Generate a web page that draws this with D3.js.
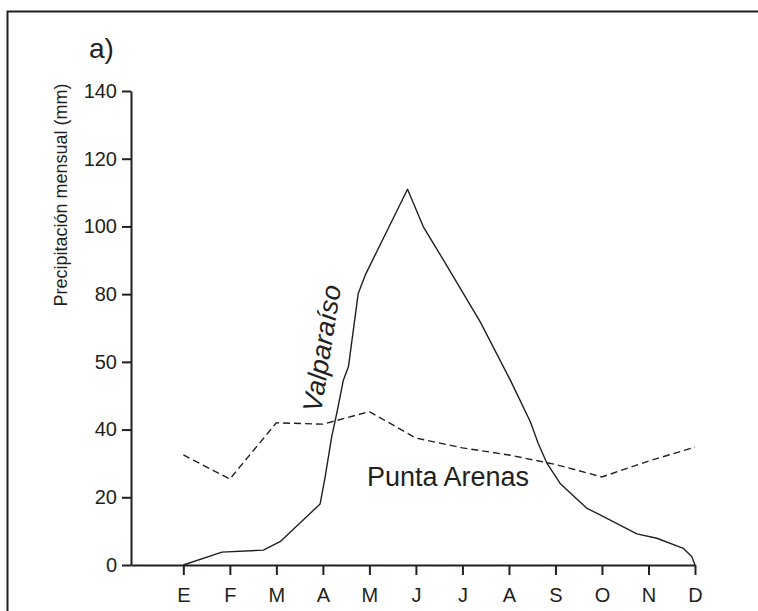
<!DOCTYPE html>
<html>
<head>
<meta charset="utf-8">
<script src="https://cdn.jsdelivr.net/npm/d3@7/dist/d3.min.js"></script>
<style>
  html, body { margin: 0; padding: 0; background: #fff; }
  svg { display: block; }
  text { font-family: "Liberation Sans", Arial, sans-serif; fill: #231f20; }
</style>
</head>
<body>
<svg id="chart" width="758" height="611"></svg>
<script>
// Monthly precipitation (mm): Valparaíso vs Punta Arenas
const months = ["E", "F", "M", "A", "M", "J", "J", "A", "S", "O", "N", "D"];

const yTickValues = [0, 20, 40, 60, 80, 100, 120, 140];
const yTickLabels = ["0", "20", "40", "50", "80", "100", "120", "140"];

// Valparaíso: traced curve, position in months (0 = E) and value in mm
const valparaisoMonth = [0, 0.83, 1.72, 2.08, 2.94, 3.05, 3.19, 3.30, 3.44, 3.55, 3.76, 3.91,
                         4.82, 5.16, 5.59, 6.38, 7.03, 7.46, 7.63, 7.82, 8.10, 8.68, 8.96,
                         9.75, 10.18, 10.75, 10.93, 11];
const valparaisoMm    = [0, 3.8, 4.4, 6.9, 18.0, 26.1, 37.9, 44.9, 54.6, 58.6, 80.2, 85.6,
                         111, 99.9, 90.1, 71.9, 54.6, 42.3, 35.9, 30.0, 24.1, 16.7, 14.8,
                         9.2, 7.9, 4.9, 2.5, 0];

// Punta Arenas: one value per month
const puntaArenasMm = [32.5, 25.4, 42.0, 41.6, 45.3, 37.5, 34.6, 32.5, 29.7, 26.0, 30.7, 34.8];

const svg = d3.select("#chart");
const ink = "#231f20";

// outer frame (open on the right and bottom)
svg.append("rect")
  .attr("x", 7.5).attr("y", 11.5)
  .attr("width", 800).attr("height", 700)
  .attr("fill", "none").attr("stroke", ink).attr("stroke-width", 2);

const x = d3.scaleLinear().domain([-1.125, 11]).range([131, 695]);
const y = d3.scaleLinear().domain([0, 140]).range([565, 91]);

// y axis
const yAxis = svg.append("g")
  .attr("transform", "translate(131,0)")
  .call(d3.axisLeft(y)
    .tickValues(yTickValues)
    .tickFormat((d, i) => yTickLabels[i])
    .tickSize(9).tickSizeOuter(0).tickPadding(5));
yAxis.select(".domain").attr("stroke", ink).attr("stroke-width", 2);
yAxis.selectAll(".tick line").attr("stroke", ink).attr("stroke-width", 2);
yAxis.selectAll(".tick text")
  .attr("fill", ink).style("font-size", "20px")
  .style("font-family", "'Liberation Sans', Arial, sans-serif");

// x axis
const xAxis = svg.append("g")
  .attr("transform", "translate(0,565)")
  .call(d3.axisBottom(x)
    .tickValues(d3.range(months.length))
    .tickFormat((d, i) => months[i])
    .tickSize(10).tickSizeOuter(0).tickPadding(13));
xAxis.select(".domain").attr("stroke", ink).attr("stroke-width", 2);
xAxis.selectAll(".tick line").attr("stroke", ink).attr("stroke-width", 2);
xAxis.selectAll(".tick text")
  .attr("fill", ink).style("font-size", "20px")
  .style("font-family", "'Liberation Sans', Arial, sans-serif");

// series lines
const line = d3.line()
  .x(d => x(d[0]))
  .y(d => y(d[1]));

svg.append("path")
  .datum(d3.zip(valparaisoMonth, valparaisoMm))
  .attr("d", line)
  .attr("fill", "none").attr("stroke", ink).attr("stroke-width", 1.4)
  .attr("stroke-linejoin", "round");

svg.append("path")
  .datum(puntaArenasMm.map((v, i) => [i, v]))
  .attr("d", line)
  .attr("fill", "none").attr("stroke", ink).attr("stroke-width", 1.4)
  .attr("stroke-dasharray", "7,4");

// labels
svg.append("text")
  .attr("transform", "translate(67,195) rotate(-90)")
  .attr("text-anchor", "middle")
  .style("font-size", "18px")
  .text("Precipitación mensual (mm)");

svg.append("text")
  .attr("x", 89).attr("y", 58)
  .style("font-size", "28px")
  .text("a)");

svg.append("text")
  .attr("transform", "translate(321,413) rotate(-81)")
  .style("font-size", "27px").style("font-style", "italic")
  .text("Valparaíso");

svg.append("text")
  .attr("x", 367).attr("y", 486)
  .style("font-size", "27px")
  .text("Punta Arenas");
</script>
</body>
</html>
